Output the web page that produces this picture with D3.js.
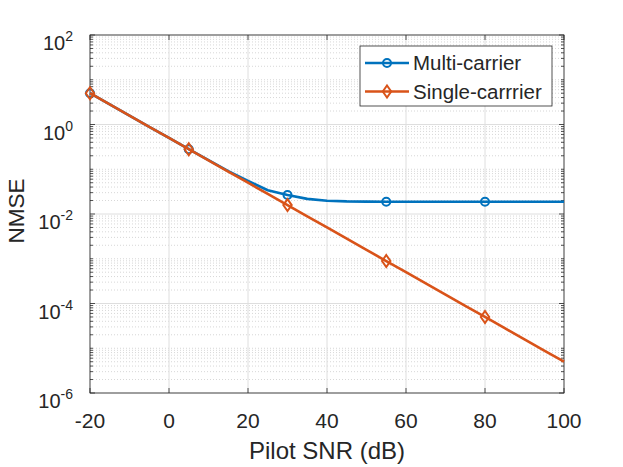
<!DOCTYPE html>
<html>
<head>
<meta charset="utf-8">
<style>
  body { margin: 0; background: #fff; }
  svg text { font-family: "Liberation Sans", Arial, Helvetica, sans-serif; fill: #262626; }
</style>
</head>
<body>
<svg id="chart" width="623" height="467"></svg>
<script src="https://cdn.jsdelivr.net/npm/d3@7"></script>
<script>
    // values
    const snr = [-20, -15, -10, -5, 0, 5, 10, 15, 20, 25, 30, 35, 40, 45, 50, 55, 60, 65, 70, 75, 80, 85, 90, 95, 100];
    const multiCarrier = [5.0, 2.8, 1.58, 0.89, 0.50, 0.28, 0.16, 0.091, 0.055, 0.034, 0.0266, 0.0218, 0.0198, 0.0191, 0.0189,
        0.0188, 0.0188, 0.0188, 0.0188, 0.0188, 0.0188, 0.0188, 0.0188, 0.0188, 0.0188];
    const singleCarrier = [5.0, 2.8, 1.58, 0.89, 0.50, 0.28, 0.158, 0.089, 0.050, 0.028, 0.0158, 0.0089, 0.0050, 0.0028, 0.00158,
        0.00089, 0.00050, 0.00028, 0.000158, 0.000089, 0.000050, 0.000028, 0.0000158, 0.0000089, 0.0000050];
    const markerSnr = [-20, 5, 30, 55, 80];
    const xTicks = [-20, 0, 20, 40, 60, 80, 100];
    const yTickExp = [-6, -4, -2, 0, 2];
    const seriesNames = ["Multi-carrier", "Single-carrrier"];
    const seriesColors = ["#0072BD", "#D95319"];

    const pLeft = 90, pRight = 564, pTop = 35, pBottom = 393;
    const ink = "#262626";

    const svg = d3.select("#chart");
    const x = d3.scaleLinear().domain([-20, 100]).range([pLeft, pRight]);
    const y = d3.scaleLog().domain([1e-6, 1e2]).range([pBottom, pTop]);

    // grid
    const grid = svg.append("g");
    let minor = [];
    for (let e = -6; e < 2; e++) {
        for (let m = 2; m <= 9; m++) minor.push(m * Math.pow(10, e));
        if (e % 2 !== 0) minor.push(Math.pow(10, e));
    }
    grid.selectAll(".minor").data(minor).join("line")
        .attr("x1", pLeft).attr("x2", pRight)
        .attr("y1", d => y(d)).attr("y2", d => y(d))
        .attr("stroke", "#cdcdcd").attr("stroke-width", 0.8)
        .attr("stroke-dasharray", "1,2");
    grid.selectAll(".majy").data(yTickExp).join("line")
        .attr("x1", pLeft).attr("x2", pRight)
        .attr("y1", d => y(Math.pow(10, d))).attr("y2", d => y(Math.pow(10, d)))
        .attr("stroke", "#dedede").attr("stroke-width", 1);
    grid.selectAll(".majx").data(xTicks).join("line")
        .attr("x1", d => x(d)).attr("x2", d => x(d))
        .attr("y1", pTop).attr("y2", pBottom)
        .attr("stroke", "#dedede").attr("stroke-width", 1);

    // ticks on all four sides
    const ticks = svg.append("g").attr("stroke", ink).attr("stroke-width", 0.8);
    xTicks.forEach(t => {
        ticks.append("line").attr("x1", x(t)).attr("x2", x(t)).attr("y1", pBottom).attr("y2", pBottom - 5);
        ticks.append("line").attr("x1", x(t)).attr("x2", x(t)).attr("y1", pTop).attr("y2", pTop + 5);
    });
    yTickExp.forEach(e => {
        const yy = y(Math.pow(10, e));
        ticks.append("line").attr("x1", pLeft).attr("x2", pLeft + 5).attr("y1", yy).attr("y2", yy);
        ticks.append("line").attr("x1", pRight).attr("x2", pRight - 5).attr("y1", yy).attr("y2", yy);
    });
    minor.forEach(v => {
        const yy = y(v);
        ticks.append("line").attr("x1", pLeft).attr("x2", pLeft + 3).attr("y1", yy).attr("y2", yy);
        ticks.append("line").attr("x1", pRight).attr("x2", pRight - 3).attr("y1", yy).attr("y2", yy);
    });

    svg.append("rect").attr("x", pLeft).attr("y", pTop)
        .attr("width", pRight - pLeft).attr("height", pBottom - pTop)
        .attr("fill", "none").attr("stroke", ink).attr("stroke-width", 0.8);

    // tick labels
    svg.selectAll(".xl").data(xTicks).join("text")
        .attr("x", d => x(d)).attr("y", 428)
        .attr("text-anchor", "middle").attr("font-size", 21)
        .text(d => d);
    const yl = svg.selectAll(".yl").data(yTickExp).join("text")
        .attr("x", 73).attr("y", d => y(Math.pow(10, d)) + 15)
        .attr("text-anchor", "end").attr("font-size", 20);
    yl.append("tspan").text("10");
    yl.append("tspan").attr("dy", -9).attr("font-size", 14).text(d => d);

    svg.append("text").attr("x", (pLeft + pRight) / 2).attr("y", 459)
        .attr("text-anchor", "middle").attr("font-size", 24).text("Pilot SNR (dB)");
    svg.append("text").attr("transform", "translate(24,211) rotate(-90)")
        .attr("text-anchor", "middle").attr("font-size", 22.5).text("NMSE");

    // series
    const series = [multiCarrier, singleCarrier];
    const line = d3.line().x((d, i) => x(snr[i])).y(d => y(d));
    const plot = svg.append("g");

    function drawMarker(g, k, cx, cy) {
        if (k === 0) {
            g.append("circle").attr("cx", cx).attr("cy", cy).attr("r", 4)
                .attr("fill", "none").attr("stroke", seriesColors[0]).attr("stroke-width", 2);
        } else {
            g.append("path")
                .attr("d", `M${cx},${cy - 6}L${cx + 4.2},${cy}L${cx},${cy + 6}L${cx - 4.2},${cy}Z`)
                .attr("fill", "none").attr("stroke", seriesColors[1]).attr("stroke-width", 2);
        }
    }

    series.forEach((vals, k) => {
        plot.append("path").datum(vals).attr("d", line)
            .attr("fill", "none").attr("stroke", seriesColors[k])
            .attr("stroke-width", 2.6).attr("stroke-linejoin", "round");
        markerSnr.forEach(s => {
            const i = snr.indexOf(s);
            drawMarker(plot, k, x(s), y(vals[i]));
        });
    });

    // legend
    const lg = svg.append("g");
    lg.append("rect").attr("x", 360).attr("y", 46).attr("width", 192).attr("height", 60)
        .attr("fill", "#fff").attr("stroke", ink).attr("stroke-width", 0.8);
    seriesNames.forEach((name, k) => {
        const ly = 63 + k * 28.5;
        lg.append("line").attr("x1", 365).attr("x2", 409).attr("y1", ly).attr("y2", ly)
            .attr("stroke", seriesColors[k]).attr("stroke-width", 2.6);
        drawMarker(lg, k, 387, ly);
        lg.append("text").attr("x", 413).attr("y", ly + 7).attr("font-size", 20.5).text(name);
    });
</script>
</body>
</html>
